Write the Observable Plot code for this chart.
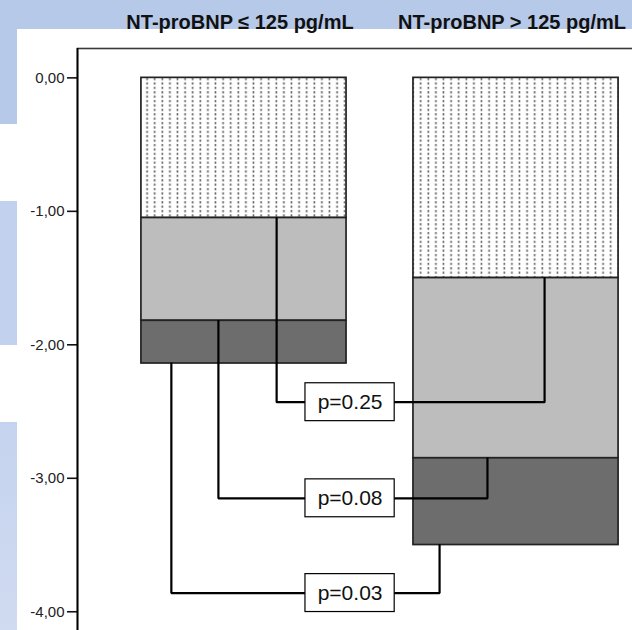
<!DOCTYPE html>
<html>
<head>
<meta charset="utf-8">
<script src="https://cdn.jsdelivr.net/npm/d3@7"></script>
<script src="https://cdn.jsdelivr.net/npm/@observablehq/plot@0.6"></script>
<style>
  html, body { margin: 0; padding: 0; background: #fff; overflow: hidden; }
  #slide { position: relative; width: 632px; height: 630px; overflow: hidden; background: #fff;
           font-family: "Liberation Sans", Arial, sans-serif; }
  .band { position: absolute; }
  #chart { position: absolute; left: 0; top: 0; }
</style>
</head>
<body>
<div id="slide">
  <div class="band" style="left:0;top:0;width:632px;height:29px;background:#b6c9e9"></div>
  <div class="band" style="left:0;top:29px;width:17px;height:95px;background:#b6c9e9"></div>
  <div class="band" style="left:0;top:201px;width:17px;height:144px;background:#c2d1ed"></div>
  <div class="band" style="left:0;top:422px;width:17px;height:208px;background:linear-gradient(#c5d3ee,#d0dbf1)"></div>
  <div id="chart"></div>
</div>
<script>
// Groups (bars) and the three stacked components of each bar
const groups = ["NT-proBNP ≤ 125 pg/mL", "NT-proBNP > 125 pg/mL"];
const components = ["upper", "middle", "lower"];
const lowGroupValues = [-1.05, -0.77, -0.32];
const highGroupValues = [-1.50, -1.35, -0.65];

// Comparisons between the groups, one per component boundary
const pLabels = ["p=0.25", "p=0.08", "p=0.03"];
const bracketLevels = [-2.43, -3.15, -3.86];

const yTicks = [0, -1, -2, -3, -4];

// ---- layout constants ----
const halfBar = 0.377;              // half bar width, in group units
const stemShift = [                 // where each bracket leaves a bar (left group, right group)
  [0.12, 0.105],
  [-0.094, -0.105],
  [-0.267, -0.281]
];
const boxCenter = 1.39, boxHalfW = 0.164, boxHalfH = 0.142;
const fills = ["url(#dots)", "#bdbdbd", "#6d6d6d"];

// stacked segments
const series = [lowGroupValues, highGroupValues];
const segments = [];
series.forEach((vals, g) => {
  let acc = 0;
  vals.forEach((v, k) => {
    segments.push({group: groups[g], gx: g + 1, comp: components[k], k, y1: acc, y2: acc + v});
    acc += v;
  });
});
const boundary = (g, k) => segments.find(s => s.gx === g + 1 && s.k === k).y2;

// bracket paths: stem down from the left bar, across, up into the right bar
const bracketPts = [];
pLabels.forEach((p, i) => {
  bracketPts.push(
    {p, x: 1 + stemShift[i][0], y: boundary(0, i)},
    {p, x: 1 + stemShift[i][0], y: bracketLevels[i]},
    {p, x: 2 + stemShift[i][1], y: bracketLevels[i]},
    {p, x: 2 + stemShift[i][1], y: boundary(1, i)}
  );
});
const boxes = pLabels.map((p, i) => ({p, y: bracketLevels[i]}));

const fmt = v => d3.format(".2f")(v).replace("−", "-").replace(".", ",");

const chart = Plot.plot({
  width: 700,
  height: 690,
  marginLeft: 77,
  marginRight: 18,
  marginTop: 48,
  marginBottom: 12,
  style: {background: "transparent", maxWidth: "none", overflow: "visible",
          fontFamily: "'Liberation Sans', Arial, sans-serif"},
  x: {domain: [0.388, 2.612], axis: null},
  y: {domain: [-4.5, 0.22], axis: null},
  marks: [
    Plot.frame({stroke: "#3a3a3a", strokeWidth: 1.6}),
    ...components.map((c, k) =>
      Plot.rect(segments.filter(s => s.k === k), {
        x1: d => d.gx - halfBar, x2: d => d.gx + halfBar, y1: "y1", y2: "y2",
        fill: fills[k], stroke: "#222", strokeWidth: 1.7
      })
    ),
    Plot.line(bracketPts, {x: "x", y: "y", z: "p", stroke: "#000", strokeWidth: 2.2,
                           strokeLinejoin: "miter", curve: "linear"}),
    Plot.rect(boxes, {x1: boxCenter - boxHalfW, x2: boxCenter + boxHalfW,
                      y1: d => d.y + boxHalfH, y2: d => d.y - boxHalfH,
                      fill: "#fff", stroke: "#000", strokeWidth: 1.2}),
    Plot.text(boxes, {x: boxCenter, y: "y", text: "p", fontSize: 21, fill: "#111"}),
    Plot.axisY(yTicks, {tickSize: 10, tickPadding: 3, tickFormat: fmt, fontSize: 15,
                        stroke: "#111", fill: "#222", strokeWidth: 1.6}),
    Plot.ruleX([0.388], {stroke: "#000", strokeWidth: 1.8}),
    Plot.text(groups, {x: (d, i) => i + 1, frameAnchor: "top", dy: -20, dx: -4,
                       lineAnchor: "bottom", fontWeight: "bold", fontSize: 20, fill: "#111"})
  ]
});

// dotted fill used by the upper component
const defs = d3.select(chart).insert("defs", ":first-child");
const pat = defs.append("pattern").attr("id", "dots").attr("patternUnits", "userSpaceOnUse")
  .attr("x", 141).attr("y", 77).attr("width", 7.6).attr("height", 4.4);
pat.append("rect").attr("width", 7.6).attr("height", 4.4).attr("fill", "#fff");
pat.append("rect").attr("x", 5.3).attr("y", 1).attr("width", 1.6).attr("height", 2.2).attr("fill", "#5e5e5e");

document.getElementById("chart").appendChild(chart);
</script>
</body>
</html>
